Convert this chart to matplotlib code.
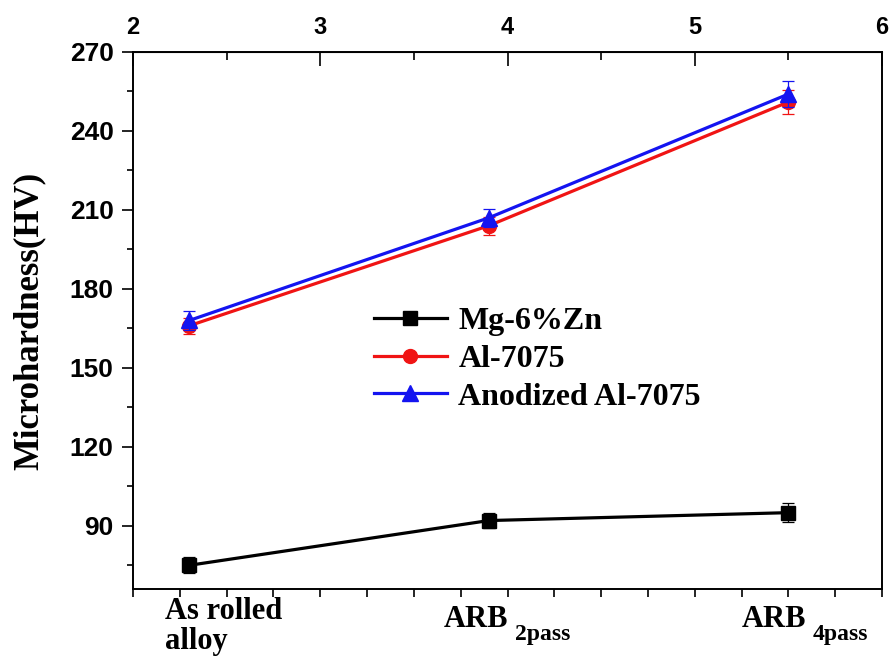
import numpy as np
import matplotlib.pyplot as plt
from matplotlib.ticker import MultipleLocator, FixedLocator

# data
x_pos = [2.3, 3.9, 5.5]
mg_zn = [75, 92, 95]
mg_zn_err = [3, 3, 3.5]
al7075 = [166, 204, 251]
al7075_err = [3, 3.5, 4.5]
anodized = [168, 207, 254]
anodized_err = [3.5, 3.5, 5]
series_names = ["Mg-6%Zn", "Al-7075", "Anodized Al-7075"]
group_main = ["As rolled\nalloy", "ARB", "ARB"]
group_sub = ["", "2pass", "4pass"]
top_ticks = [2, 3, 4, 5, 6]
top_minor = [2.5, 3.5, 4.5, 5.5]
label_x = [2.17, 3.66, 5.25]
label_y = [-0.015, -0.03, -0.03]

fig = plt.figure(figsize=(8.92, 6.57), dpi=100)
ax = fig.add_axes([0.1491, 0.1035, 0.8397, 0.8174])

style = dict(lw=2.3, capsize=4, elinewidth=0.9, capthick=0.9)
c1 = ax.errorbar(x_pos, mg_zn, yerr=mg_zn_err, color="black", marker="s", ms=10,
                 label=series_names[0], zorder=3, **style)
c2 = ax.errorbar(x_pos, al7075, yerr=al7075_err, color="#f01414", marker="o", ms=10,
                 label=series_names[1], zorder=4, **style)
c3 = ax.errorbar(x_pos, anodized, yerr=anodized_err, color="#1414f0", marker="^", ms=11,
                 label=series_names[2], zorder=5, **style)

ax.set_xlim(2, 6)
ax.set_ylim(66, 270)

for s in ax.spines.values():
    s.set_linewidth(1.4)

# bottom axis: plain ticks every 0.25, labels drawn as text
ax.xaxis.set_major_locator(MultipleLocator(0.25))
ax.tick_params(axis="x", which="major", direction="out", length=6, width=1.2, labelbottom=False)

# left axis
ax.yaxis.set_major_locator(MultipleLocator(30))
ax.yaxis.set_minor_locator(MultipleLocator(15))
ax.tick_params(axis="y", which="major", direction="out", length=8, width=1.2, pad=6,
               labelsize=19)
ax.tick_params(axis="y", which="minor", direction="out", length=4, width=1.2)
for lab in ax.get_yticklabels():
    lab.set_fontfamily("Liberation Sans")
    lab.set_fontweight("bold")

ax.set_ylabel("Microhardness(HV)", family="Liberation Serif", fontweight="bold",
              fontsize=25, labelpad=17)

# top axis
top = ax.secondary_xaxis("top")
top.xaxis.set_major_locator(FixedLocator(top_ticks))
top.xaxis.set_minor_locator(FixedLocator(top_minor))
top.tick_params(which="major", direction="in", length=10, width=1.2, labelsize=17, pad=9)
top.tick_params(which="minor", direction="in", length=6, width=1.2)
for lab in top.get_xticklabels():
    lab.set_fontfamily("Liberation Sans")
    lab.set_fontweight("bold")

# category labels under the bottom axis
for xl, yl, txt, sub in zip(label_x, label_y, group_main, group_sub):
    t = ax.text(xl, yl, txt, transform=ax.get_xaxis_transform(), ha="left", va="top",
                family="Liberation Serif", fontweight="bold", fontsize=22, linespacing=1.05)
    if sub:
        ax.annotate(sub, xy=(1, 0), xycoords=t, xytext=(5, 0), textcoords="offset points",
                    ha="left", va="center", family="Liberation Serif", fontweight="bold",
                    fontsize=17)

leg = ax.legend(handles=[c1[0], c2[0], c3[0]], labels=series_names,
                loc="upper left", bbox_to_anchor=(0.30, 0.555), frameon=False,
                prop={"family": "Liberation Serif", "weight": "bold", "size": 23},
                handlelength=2.3, handletextpad=0.35, labelspacing=0.26, borderpad=0)

fig.savefig("out.png", dpi=100)
